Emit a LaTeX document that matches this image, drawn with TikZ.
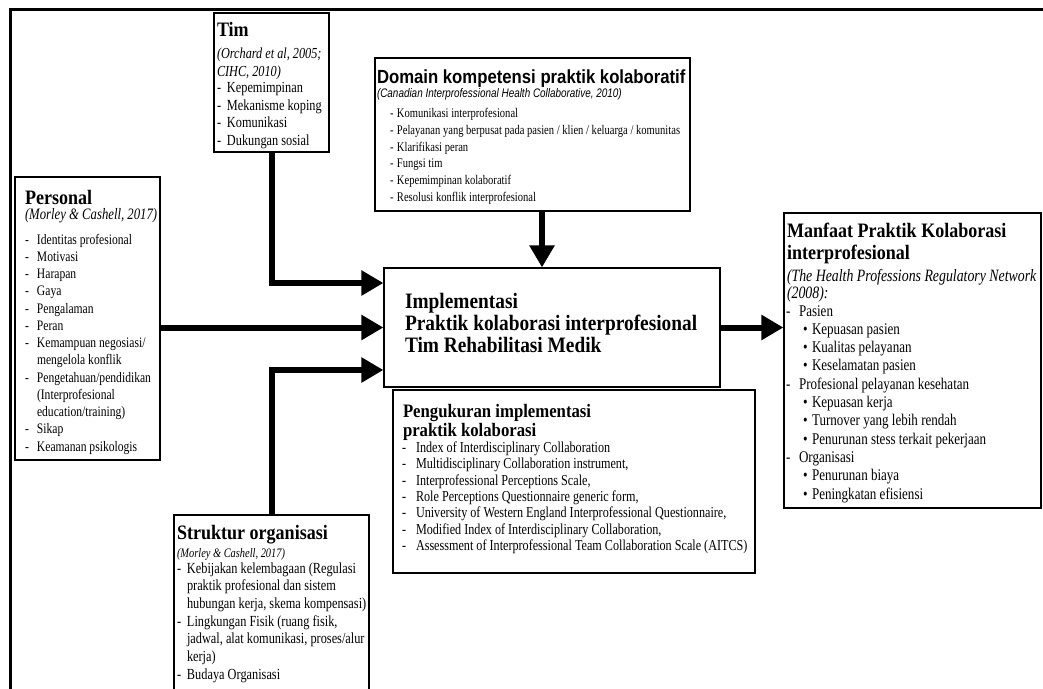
\documentclass[tikz,border=0pt]{standalone}
\usepackage{fontspec}
\setmainfont{Liberation Serif}[FakeStretch=0.8]
\setsansfont{Liberation Sans}[FakeStretch=0.8]
\newfontfamily\titf{Liberation Serif}[FakeStretch=0.88]
\newfontfamily\titsf{Liberation Sans}[FakeStretch=0.88]
\usetikzlibrary{arrows.meta,fit}
\newcommand{\fs}[2]{\fontsize{#1pt}{#2pt}\selectfont}
\newcommand{\itm}[2]{\makebox[#1][l]{-}#2}
\newcommand{\cnt}[2]{\hspace*{#1}#2}
\newcommand{\bul}[1]{\hspace*{17pt}\makebox[9pt][l]{\textbullet}#1}
\tikzset{
  box/.style={draw=black, line width=1.2pt, inner sep=0pt, rectangle},
  txt/.style={anchor=base west, inner sep=0pt, outer sep=0pt},
  conn/.style={line width=6pt, -{Triangle[length=22pt,width=24pt]}},
  frame/.style={line width=3pt}
}
\begin{document}
\begin{tikzpicture}[x=1pt,y=-1pt]
\useasboundingbox (0,0) rectangle (1043,688);
\clip (0,0) rectangle (1043,688);
\fill[white] (0,0) rectangle (1043,688);
% outer frame
\coordinate (fa) at (10,720);
\coordinate (fb) at (10,9);
\coordinate (fc) at (1090,9);
\draw[frame] (fa) -- (fb) -- (fc);

% boxes
\node[box, fit={(214,13) (329,152)}] (tim) {};
\node[box, fit={(375,58) (690,211)}] (domain) {};
\node[box, fit={(15,177) (160,460)}] (personal) {};
\node[box, fit={(384,268) (720,387)}] (center) {};
\node[box, fit={(784,213) (1041,508)}] (manfaat) {};
\node[box, fit={(393,390) (755,573)}] (peng) {};
\node[box, fit={(174,515) (369,720)}] (struktur) {};

% Tim
\node[txt] (timT) at (217,36) {\titf\fs{20.5}{22}\bfseries Tim};
\node[txt] (timS) at (217,58.5) {\parbox[t]{200pt}{\fs{15.3}{17.5}\itshape (Orchard et al, 2005;\\CIHC, 2010)}};
\node[txt] (timI) at (217,92.7) {\parbox[t]{200pt}{\fs{15.4}{17.5}%
\itm{10pt}{Kepemimpinan}\\
\itm{10pt}{Mekanisme koping}\\
\itm{10pt}{Komunikasi}\\
\itm{10pt}{Dukungan sosial}}};

% Domain
\node[txt] (domT) at (377,83) {\titsf\fs{19}{20}\bfseries Domain kompetensi praktik kolaboratif};
\node[txt] (domS) at (377,97) {\fs{12.4}{13}\sffamily\itshape (Canadian Interprofessional Health Collaborative, 2010)};
\node[txt] (domI) at (390,117.5) {\parbox[t]{400pt}{\fs{13.2}{16.8}%
\itm{7pt}{Komunikasi interprofesional}\\
\itm{7pt}{Pelayanan yang berpusat pada pasien / klien / keluarga / komunitas}\\
\itm{7pt}{Klarifikasi peran}\\
\itm{7pt}{Fungsi tim}\\
\itm{7pt}{Kepemimpinan kolaboratif}\\
\itm{7pt}{Resolusi konflik interprofesional}}};

% Personal
\node[txt] (perT) at (25,204) {\titf\fs{20.5}{22}\bfseries Personal};
\node[txt] (perS) at (25,219) {\fs{15.9}{17}\itshape (Morley \& Cashell, 2017)};
\node[txt] (perI) at (25,244) {\parbox[t]{200pt}{\fs{14.5}{17.25}%
\itm{12pt}{Identitas profesional}\\
\itm{12pt}{Motivasi}\\
\itm{12pt}{Harapan}\\
\itm{12pt}{Gaya}\\
\itm{12pt}{Pengalaman}\\
\itm{12pt}{Peran}\\
\itm{12pt}{Kemampuan negosiasi/}\\
\cnt{12pt}{mengelola konflik}\\
\itm{12pt}{Pengetahuan/pendidikan}\\
\cnt{12pt}{(Interprofesional}\\
\cnt{12pt}{education/training)}\\
\itm{12pt}{Sikap}\\
\itm{12pt}{Keamanan psikologis}}};

% Center
\node[txt] (cenT) at (405,308) {\parbox[t]{400pt}{\titf\fs{22}{22}\bfseries Implementasi\\Praktik kolaborasi interprofesional\\Tim Rehabilitasi Medik}};

% Manfaat
\node[txt] (manT) at (787,237) {\parbox[t]{300pt}{\titf\fs{20.5}{22}\bfseries Manfaat Praktik Kolaborasi\\interprofesional}};
\node[txt] (manS) at (787,281) {\parbox[t]{300pt}{\fs{17.3}{17}\itshape (The Health Professions Regulatory Network\\(2008):}};
\node[txt] (manI) at (786,316) {\parbox[t]{300pt}{\fs{16.3}{18.3}%
\itm{13pt}{Pasien}\\
\bul{Kepuasan pasien}\\
\bul{Kualitas pelayanan}\\
\bul{Keselamatan pasien}\\
\itm{13pt}{Profesional pelayanan kesehatan}\\
\bul{Kepuasan kerja}\\
\bul{Turnover yang lebih rendah}\\
\bul{Penurunan stess terkait pekerjaan}\\
\itm{13pt}{Organisasi}\\
\bul{Penurunan biaya}\\
\bul{Peningkatan efisiensi}}};

% Pengukuran
\node[txt] (pngT) at (403,417) {\parbox[t]{340pt}{\titf\fs{19}{19.5}\bfseries Pengukuran implementasi\\praktik kolaborasi}};
\node[txt] (pngI) at (402,452.5) {\parbox[t]{400pt}{\fs{15.2}{16.3}%
\itm{14pt}{Index of Interdisciplinary Collaboration}\\
\itm{14pt}{Multidisciplinary Collaboration instrument,}\\
\itm{14pt}{Interprofessional Perceptions Scale,}\\
\itm{14pt}{Role Perceptions Questionnaire generic form,}\\
\itm{14pt}{University of Western England Interprofessional Questionnaire,}\\
\itm{14pt}{Modified Index of Interdisciplinary Collaboration,}\\
\itm{14pt}{Assessment of Interprofessional Team Collaboration Scale (AITCS)}}};

% Struktur
\node[txt] (strT) at (177,539) {\titf\fs{20.5}{22}\bfseries Struktur organisasi};
\node[txt] (strS) at (177,557) {\fs{13}{17}\itshape (Morley \& Cashell, 2017)};
\node[txt] (strI) at (177,573) {\parbox[t]{300pt}{\fs{15.4}{17.7}%
\itm{10pt}{Kebijakan kelembagaan (Regulasi}\\
\cnt{10pt}{praktik profesional dan sistem}\\
\cnt{10pt}{hubungan kerja, skema kompensasi)}\\
\itm{10pt}{Lingkungan Fisik (ruang fisik,}\\
\cnt{10pt}{jadwal, alat komunikasi, proses/alur}\\
\cnt{10pt}{kerja)}\\
\itm{10pt}{Budaya Organisasi}}};

% connectors
\draw[conn] (tim.south) |- ([yshift=44.5pt]center.west);
\draw[conn] (struktur.north) |- ([yshift=-42.5pt]center.west);
\draw[conn] (personal.east |- center.west) -- (center.west);
\draw[conn] ([xshift=9.5pt]domain.south) -- ([xshift=9.5pt]domain.south |- center.north);
\draw[conn] (center.east) -- (manfaat.west |- center.east);
\end{tikzpicture}
\end{document}
